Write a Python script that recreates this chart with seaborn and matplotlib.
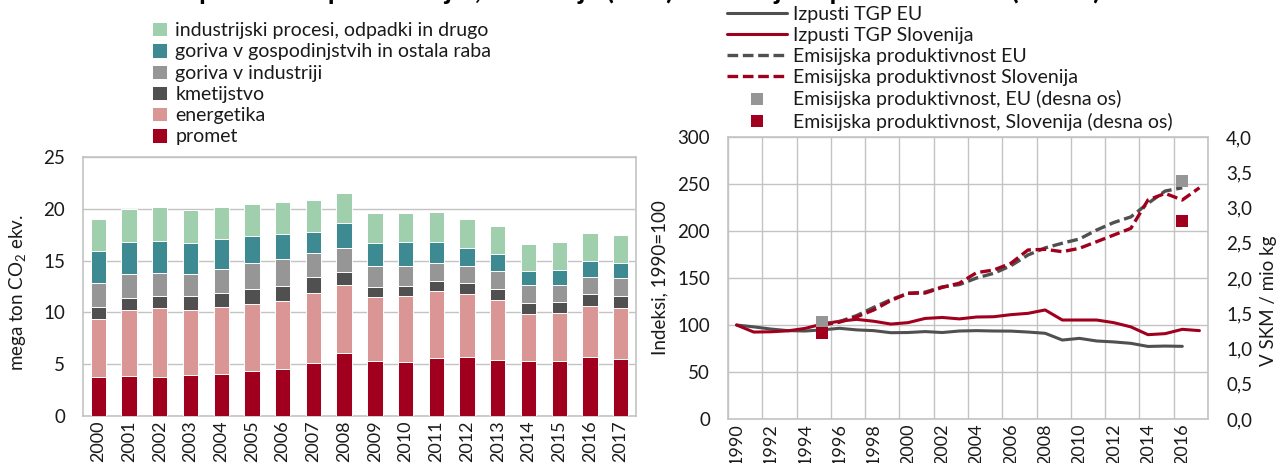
import numpy as np
import pandas as pd
import matplotlib
matplotlib.use("Agg")
import matplotlib.pyplot as plt
from matplotlib.lines import Line2D
import seaborn as sns
from matplotlib.ticker import FixedLocator, FuncFormatter

# ---------------- data: left chart (mega ton CO2 ekv.) ----------------
bar_years = [str(y) for y in range(2000, 2018)]
promet = [3.79, 3.89, 3.79, 3.95, 4.05, 4.37, 4.56, 5.14, 6.10, 5.27, 5.21, 5.62, 5.69, 5.40, 5.33, 5.33, 5.69, 5.49]
energetika = [5.56, 6.33, 6.59, 6.30, 6.46, 6.46, 6.53, 6.75, 6.50, 6.20, 6.36, 6.40, 6.10, 5.78, 4.50, 4.57, 4.95, 4.95]
kmetijstvo = [1.19, 1.16, 1.19, 1.29, 1.35, 1.41, 1.44, 1.48, 1.31, 1.00, 0.99, 0.99, 1.03, 1.10, 1.06, 1.09, 1.12, 1.19]
goriva_industrija = [2.25, 2.28, 2.28, 2.21, 2.31, 2.51, 2.67, 2.41, 2.35, 1.99, 1.96, 1.77, 1.70, 1.67, 1.71, 1.64, 1.64, 1.71]
goriva_gospodinjstva = [3.11, 3.14, 3.02, 2.93, 2.89, 2.63, 2.41, 1.96, 2.34, 2.25, 2.25, 1.99, 1.71, 1.70, 1.38, 1.51, 1.54, 1.41]
industrijski_procesi = [3.16, 3.19, 3.28, 3.18, 3.15, 3.12, 3.08, 3.08, 2.96, 2.86, 2.86, 2.90, 2.83, 2.70, 2.63, 2.67, 2.70, 2.70]

sector_names = ["promet", "energetika", "kmetijstvo", "goriva v industriji",
                "goriva v gospodinjstvih in ostala raba",
                "industrijski procesi, odpadki in drugo"]
sector_values = [promet, energetika, kmetijstvo, goriva_industrija,
                 goriva_gospodinjstva, industrijski_procesi]
sector_colors = ["#a0001e", "#da9595", "#505050", "#969696", "#3e8a92", "#a0cfad"]

# ---------------- data: right chart (index 1990=100) ----------------
line_years = list(range(1990, 2018))
nan = np.nan
izpusti_eu = [100, 98, 95.7, 94, 93.6, 94.8, 96.5, 94.8, 94, 91.8, 92, 93, 92, 93.6, 94,
              93.6, 93.5, 92.5, 91.2, 84, 85.8, 83, 82, 80.5, 77.2, 77.6, 77.3, nan]
izpusti_si = [100, 92.5, 92.8, 93.8, 96.4, 101, 104, 106, 104, 101, 102.5, 107, 108, 106.5, 108.5,
              108.8, 111, 112.4, 116, 105.3, 105.3, 105.3, 102.5, 98, 89.7, 90.8, 95.4, 94]
produktivnost_eu = [nan, nan, nan, nan, nan, 101, 103.6, 110, 118.7, 127, 133.7, 135, 140.6, 143, 150,
                    155, 163, 174.5, 182, 187, 191.5, 201, 209, 215, 229.4, 242.5, 246, nan]
produktivnost_si = [nan, nan, nan, nan, nan, 100, 103, 108.6, 116, 126, 133.7, 134, 140, 144.5, 155.7,
                    158.5, 165.6, 179.8, 180.5, 178, 181.6, 188.6, 195.7, 202.8, 233, 240, 233, 246]

square_years = [1995, 2016]
square_eu = [1.38, 3.37]   # V SKM / mio kg (desna os)
square_si = [1.22, 2.81]

# ---------------- style ----------------
sns.set_theme(style="white")
FONT = ["Lato", "DejaVu Sans"]
plt.rcParams["font.family"] = FONT
plt.rcParams["mathtext.fontset"] = "custom"
plt.rcParams["mathtext.rm"] = "Lato"
plt.rcParams["mathtext.it"] = "Lato:italic"
plt.rcParams["mathtext.bf"] = "Lato:bold"
FS = 13.5
XFS = 13
LFS = 14
GRID = "#c3c3c3"
TXT = "#1a1a1a"
RED = "#a0001e"
DARK = "#505050"
LIGHT = "#969696"

fig = plt.figure(figsize=(12.82, 4.63), dpi=100)

# title (clipped at the top in the reference)
fig.text(0.065, 1 + 1.5 / 463, "Slika 5: Izpusti TGP po sektorjih, Slovenija (levo) in emisijska produktivnost (desno)",
         fontsize=20, fontweight="bold", va="baseline", ha="left", color="black")

# ---------------- left chart ----------------
axL = fig.add_axes([83 / 1282, 1 - 416 / 463, 553 / 1282, 259 / 463])
df_bar = pd.DataFrame({"leto": bar_years})
cum = np.zeros(len(bar_years))
cums = []
for vals in sector_values:
    cum = cum + np.array(vals)
    cums.append(cum.copy())
for name, col, c in reversed(list(zip(sector_names, sector_colors, cums))):
    d = df_bar.assign(v=c)
    sns.barplot(data=d, x="leto", y="v", color=col, width=0.5, ax=axL,
                edgecolor="white", linewidth=0.7, saturation=1, label=name, zorder=3)
if axL.get_legend() is not None:
    axL.get_legend().remove()
axL.set_ylim(0, 25)
axL.set_xlim(-0.5, len(bar_years) - 0.5)
axL.set_yticks(range(0, 26, 5))
axL.yaxis.grid(True, color=GRID, linewidth=1, zorder=0)
axL.set_axisbelow(True)
for s in axL.spines.values():
    s.set_color(GRID)
    s.set_linewidth(1.2)
axL.tick_params(axis="both", length=0, labelsize=FS, colors=TXT)
axL.tick_params(axis="y", pad=13)
axL.tick_params(axis="x", pad=3, rotation=90, labelsize=XFS)
axL.set_xlabel("")
axL.set_ylabel("mega ton CO$_{\\mathregular{2}}$ ekv.", fontsize=FS, color=TXT)
axL.yaxis.set_label_coords(-0.1, 0.475)

hL, lL = axL.get_legend_handles_labels()
fig.legend(hL, lL, loc="upper left", bbox_to_anchor=(152 / 1282, 1 - 22 / 463),
           frameon=False, fontsize=LFS, handlelength=0.75, handleheight=0.75,
           handletextpad=0.45, labelspacing=0.22, borderpad=0, borderaxespad=0,
           labelcolor=TXT)

# ---------------- right chart ----------------
axR = fig.add_axes([728 / 1282, 1 - 419 / 463, 480 / 1282, 282 / 463])
df_line = pd.DataFrame({"leto": line_years, "eu": izpusti_eu, "si": izpusti_si,
                        "peu": produktivnost_eu, "psi": produktivnost_si})
dash = (0, (3.2, 1.4))
sns.lineplot(data=df_line, x="leto", y="eu", color=DARK, linewidth=2.2, ax=axR,
             label="Izpusti TGP EU", zorder=3)
sns.lineplot(data=df_line, x="leto", y="si", color=RED, linewidth=2.2, ax=axR,
             label="Izpusti TGP Slovenija", zorder=3)
sns.lineplot(data=df_line, x="leto", y="peu", color=DARK, linewidth=2.4, linestyle=dash, ax=axR,
             label="Emisijska produktivnost EU", zorder=3)
sns.lineplot(data=df_line, x="leto", y="psi", color=RED, linewidth=2.4, linestyle=dash, ax=axR,
             label="Emisijska produktivnost Slovenija", zorder=3)
axR.set_xlim(1989.5, 2017.5)
axR.set_ylim(0, 300)
axR.set_yticks(range(0, 301, 50))
axR.set_xticks(range(1990, 2017, 2))
axR.xaxis.set_minor_locator(FixedLocator(np.arange(1989.5, 2018, 2)))
axR.grid(False)
axR.xaxis.grid(True, which="minor", color=GRID, linewidth=1)
axR.yaxis.grid(True, which="major", color=GRID, linewidth=1)
axR.set_axisbelow(True)
for s in axR.spines.values():
    s.set_color(GRID)
    s.set_linewidth(1.2)
axR.tick_params(axis="both", which="both", length=0, labelsize=FS, colors=TXT)
axR.tick_params(axis="y", pad=13)
axR.tick_params(axis="x", pad=3, rotation=90, labelsize=XFS)
axR.set_xlabel("")
axR.set_ylabel("Indeksi, 1990=100", fontsize=FS, color=TXT)
axR.yaxis.set_label_coords(-0.125, 0.5)

ax2 = axR.twinx()
d_sq = pd.DataFrame({"leto": square_years, "eu": square_eu, "si": square_si})
sns.scatterplot(data=d_sq, x="leto", y="eu", marker="s", s=80, color=LIGHT, linewidth=0,
                ax=ax2, zorder=4)
sns.scatterplot(data=d_sq, x="leto", y="si", marker="s", s=80, color=RED, linewidth=0,
                ax=ax2, zorder=5)
ax2.set_ylim(0, 4)
ax2.set_yticks(np.arange(0, 4.01, 0.5))
ax2.yaxis.set_major_formatter(FuncFormatter(lambda v, p: f"{v:.1f}".replace(".", ",")))
ax2.tick_params(axis="y", length=0, labelsize=FS, colors=TXT, pad=13)
ax2.set_ylabel("V SKM / mio kg", fontsize=FS, color=TXT)
ax2.yaxis.set_label_coords(1.108, 0.42)
for s in ax2.spines.values():
    s.set_visible(False)
ax2.grid(False)

h1, l1 = axR.get_legend_handles_labels()
h2 = [Line2D([], [], ls="none", marker="s", markersize=9, color=LIGHT, markeredgewidth=0),
      Line2D([], [], ls="none", marker="s", markersize=9, color=RED, markeredgewidth=0)]
l2 = ["Emisijska produktivnost, EU (desna os)", "Emisijska produktivnost, Slovenija (desna os)"]
for a in (axR, ax2):
    if a.get_legend() is not None:
        a.get_legend().remove()
fig.legend(h1 + h2, l1 + l2, loc="upper left", bbox_to_anchor=(727 / 1282, 1 - 6 / 463),
           frameon=False, fontsize=LFS, handlelength=3.1, handletextpad=0.3,
           labelspacing=0.21, borderpad=0, borderaxespad=0, labelcolor=TXT,
           numpoints=1)

fig.savefig("out.png", dpi=100)
